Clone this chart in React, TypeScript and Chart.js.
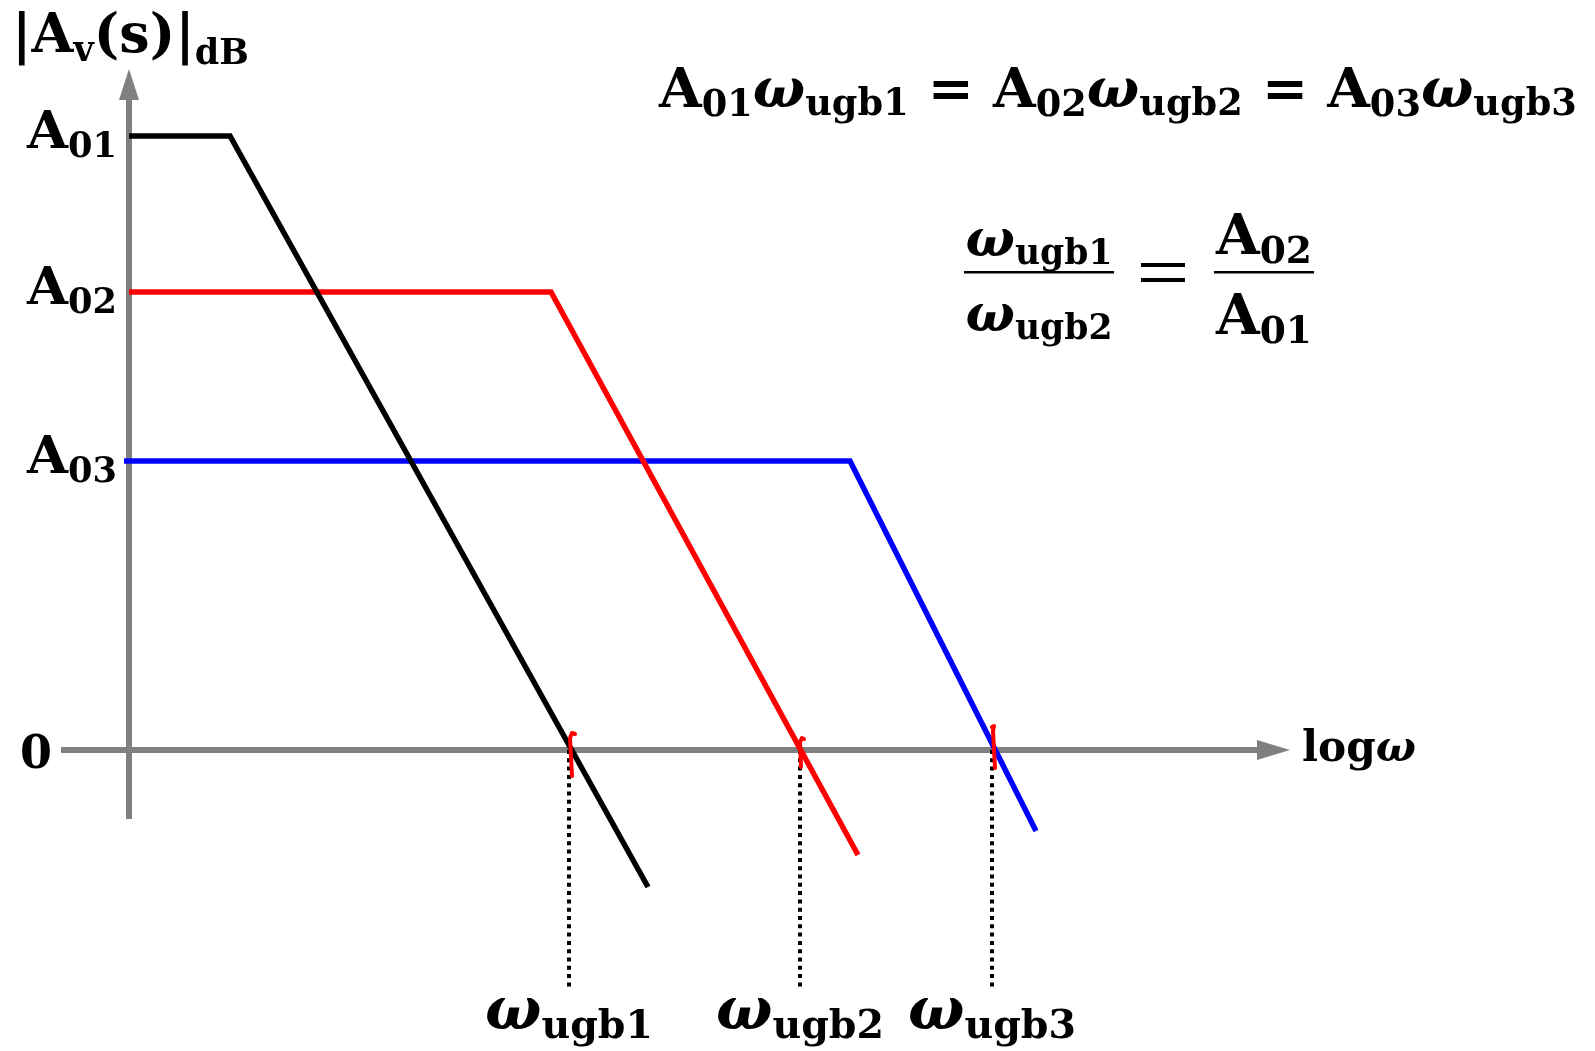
import React, { useEffect, useRef } from "react";
import { Chart, registerables } from "chart.js";

Chart.register(...registerables);

const W = 1595;
const H = 1051;

// Asymptotic Bode magnitude plots: x = log ω (decades), y = |Av| in dB
const amp1X = [0, 1.01, 5.19];
const amp1Y = [61.4, 61.4, -13.7];
const amp2X = [0, 4.22, 7.29];
const amp2Y = [45.8, 45.8, -10.5];
const amp3X = [-0.05, 7.21, 9.07];
const amp3Y = [28.9, 28.9, -8.1];

// Unity-gain crossings and their labels
const ugbX = [4.4, 6.71, 8.63];
const ugbNames = ["ugb1", "ugb2", "ugb3"];

// Low-frequency gains marked on the vertical axis
const gainLevels = [61.4, 45.8, 28.9];
const gainNames = ["01", "02", "03"];

// Small red hand-drawn marks at the crossings
const mark1X = [4.43, 4.41, 4.43, 4.46];
const mark1Y = [-2.6, 1.2, 1.7, 1.6];
const mark2X = [6.72, 6.71, 6.73, 6.75];
const mark2Y = [-1.7, 0.8, 1.2, 1.1];
const mark3X = [8.66, 8.64, 8.65, 8.63];
const mark3Y = [-1.8, 1.9, 2.4, 2.3];

// Depth of the dotted drop lines below 0 dB
const dropBottom = -23.9;

// Axis extents
const axisXFrom = -0.68;
const axisXTo = 11.61;
const axisYFrom = -6.9;
const axisYTo = 68.1;

const SERIF = '"DejaVu Serif", serif';
const GRAY = "#808080";

type Run = { t: string; size: number; italic?: boolean; dy?: number };

function runFont(r: Run, k: number) {
  return `${r.italic ? "italic " : ""}bold ${r.size * k}px ${SERIF}`;
}

function richWidth(ctx: CanvasRenderingContext2D, runs: Run[], k: number) {
  let w = 0;
  for (const r of runs) {
    ctx.font = runFont(r, k);
    w += ctx.measureText(r.t).width;
  }
  return w;
}

// Draw a run of text pieces (base text, subscripts) fitted to a width
function drawRich(
  ctx: CanvasRenderingContext2D,
  runs: Run[],
  x: number,
  baseline: number,
  align: "left" | "right" | "center",
  fitWidth?: number
) {
  let k = 1;
  if (fitWidth) k = fitWidth / richWidth(ctx, runs, 1);
  const total = richWidth(ctx, runs, k);
  let cx = align === "left" ? x : align === "right" ? x - total : x - total / 2;
  ctx.textAlign = "left";
  ctx.textBaseline = "alphabetic";
  ctx.fillStyle = "#000";
  for (const r of runs) {
    ctx.font = runFont(r, k);
    ctx.fillText(r.t, cx, baseline + (r.dy || 0) * k);
    cx += ctx.measureText(r.t).width;
  }
}

const omegaSub = (name: string, big = 48, small = 32): Run[] => [
  { t: "ω", size: big, italic: true },
  { t: name, size: small, dy: 7 },
];
const gainRuns = (sub: string, big = 48, small = 32): Run[] => [
  { t: "A", size: big },
  { t: sub, size: small, dy: 8 },
];

const pts = (xs: number[], ys: number[]) => xs.map((x, i) => ({ x, y: ys[i] }));

const axesPlugin = {
  id: "bodeAxes",
  beforeDatasetsDraw(chart: any) {
    const ctx: CanvasRenderingContext2D = chart.ctx;
    const xs = chart.scales.x;
    const ys = chart.scales.y;
    const x0 = xs.getPixelForValue(0);
    const y0 = ys.getPixelForValue(0);
    ctx.save();
    ctx.strokeStyle = GRAY;
    ctx.fillStyle = GRAY;
    ctx.lineWidth = 6;
    ctx.lineCap = "butt";
    // horizontal axis
    const xEnd = xs.getPixelForValue(axisXTo);
    ctx.beginPath();
    ctx.moveTo(xs.getPixelForValue(axisXFrom), y0);
    ctx.lineTo(xEnd - 30, y0);
    ctx.stroke();
    ctx.beginPath();
    ctx.moveTo(xEnd, y0);
    ctx.lineTo(xEnd - 33, y0 - 10);
    ctx.lineTo(xEnd - 33, y0 + 10);
    ctx.closePath();
    ctx.fill();
    // vertical axis
    const yEnd = ys.getPixelForValue(axisYTo);
    ctx.beginPath();
    ctx.moveTo(x0, ys.getPixelForValue(axisYFrom));
    ctx.lineTo(x0, yEnd + 28);
    ctx.stroke();
    ctx.beginPath();
    ctx.moveTo(x0, yEnd);
    ctx.lineTo(x0 - 10, yEnd + 31);
    ctx.lineTo(x0 + 10, yEnd + 31);
    ctx.closePath();
    ctx.fill();
    ctx.restore();
  },
  afterDraw(chart: any) {
    const ctx: CanvasRenderingContext2D = chart.ctx;
    const xs = chart.scales.x;
    const ys = chart.scales.y;
    ctx.save();

    // vertical axis title
    drawRich(
      ctx,
      [
        { t: "|A", size: 40 },
        { t: "v", size: 26, dy: 7 },
        { t: "(s)|", size: 40 },
        { t: "dB", size: 26, dy: 9 },
      ],
      12,
      52,
      "left",
      237
    );

    // gain labels
    gainLevels.forEach((g, i) => {
      drawRich(ctx, gainRuns(gainNames[i]), 117, ys.getPixelForValue(g) + 12, "right", 90);
    });
    drawRich(ctx, [{ t: "0", size: 46 }], 52, ys.getPixelForValue(0) + 18, "right");

    // horizontal axis title
    drawRich(
      ctx,
      [
        { t: "log", size: 46 },
        { t: "ω", size: 46, italic: true },
      ],
      1302,
      ys.getPixelForValue(0) + 11,
      "left",
      114
    );

    // crossing frequency labels
    ugbX.forEach((u, i) => {
      drawRich(ctx, omegaSub(ugbNames[i]), xs.getPixelForValue(u), 1029, "center", 168);
    });

    // gain-bandwidth relation
    const eq: Run[] = [];
    gainNames.forEach((g, i) => {
      if (i > 0) eq.push({ t: " = ", size: 48 });
      eq.push(...gainRuns(g), ...omegaSub(ugbNames[i]));
    });
    drawRich(ctx, eq, 659, 107, "left", 918);

    // ratio relation
    drawRich(ctx, omegaSub(ugbNames[0]), 1039, 256, "center", 147);
    drawRich(ctx, omegaSub(ugbNames[1]), 1039, 331, "center", 147);
    drawRich(ctx, gainRuns(gainNames[1]), 1264, 254, "center", 96);
    drawRich(ctx, gainRuns(gainNames[0]), 1264, 334, "center", 96);
    ctx.fillStyle = "#000";
    ctx.fillRect(964, 271, 150, 2.5);
    ctx.fillRect(1214, 271, 100, 2.5);
    ctx.fillRect(1141, 263, 44, 4);
    ctx.fillRect(1141, 278, 44, 4);

    ctx.restore();
  },
};

export default function App() {
  const ref = useRef<HTMLCanvasElement | null>(null);

  useEffect(() => {
    if (!ref.current) return;
    const line = (data: any[], color: string, width: number, dash: number[] = []) => ({
      data,
      showLine: true,
      borderColor: color,
      backgroundColor: color,
      borderWidth: width,
      borderDash: dash,
      borderCapStyle: "butt",
      borderJoinStyle: "miter",
      pointRadius: 0,
      tension: 0,
      fill: false,
    });
    const marks = [pts(mark1X, mark1Y), pts(mark2X, mark2Y), pts(mark3X, mark3Y)];
    const chart = new Chart(ref.current, {
      type: "scatter",
      data: {
        datasets: [
          ...marks.map((m) => ({ ...line(m, "#ff0000", 4), borderCapStyle: "round", borderJoinStyle: "round" })),
          line(pts(amp1X, amp1Y), "#000000", 5.5),
          line(pts(amp2X, amp2Y), "#ff0000", 5.5),
          line(pts(amp3X, amp3Y), "#0000ff", 5.5),
          ...ugbX.map((u) => line([{ x: u, y: 0 }, { x: u, y: dropBottom }], "#000000", 4, [4, 4.3])),
        ] as any,
      },
      options: {
        responsive: false,
        animation: false,
        devicePixelRatio: 1,
        events: [],
        layout: { padding: 0 },
        plugins: { legend: { display: false }, tooltip: { enabled: false } },
        scales: {
          x: { type: "linear", min: -1.29, max: 14.66, display: false },
          y: { type: "linear", min: -30.1, max: 75, display: false },
        },
      },
      plugins: [axesPlugin],
    });
    return () => chart.destroy();
  }, []);

  return (
    <div style={{ position: "absolute", left: 0, top: 0, width: W, height: H, background: "#fff" }}>
      <canvas ref={ref} width={W} height={H} style={{ display: "block", width: W, height: H }} />
    </div>
  );
}
